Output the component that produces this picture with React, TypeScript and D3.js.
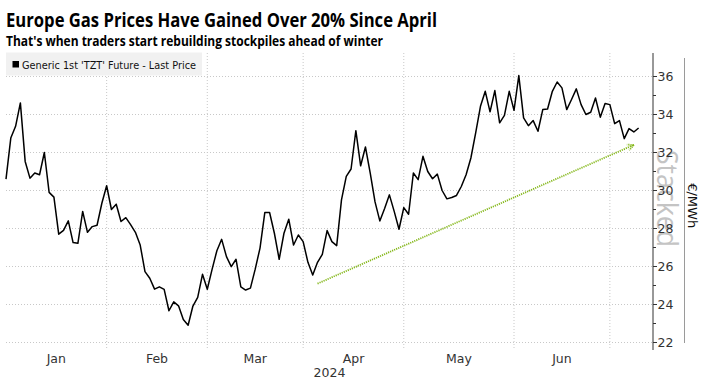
import React from "react";
import * as d3 from "d3";

// Generic 1st 'TZT' Future - Last Price (EUR/MWh), one value per trading day, early Jan to early Jul 2024
const prices: number[] = [
  30.6, 32.76, 33.38, 34.61, 31.53, 30.65, 30.92, 30.83, 32.0, 29.9,
  29.65, 27.7, 27.9, 28.4, 27.26, 27.22, 28.9, 27.8, 28.1, 28.17,
  29.33, 30.25, 29.0, 29.28, 28.37, 28.57, 28.2, 27.8, 27.13, 25.73,
  25.38, 24.81, 24.93, 24.8, 23.67, 24.14, 23.93, 23.21, 22.91, 23.92,
  24.37, 25.59, 24.8, 25.85, 26.83, 27.43, 26.52, 25.99, 26.38, 24.93,
  24.76, 24.86, 25.86, 26.97, 28.84, 28.84, 27.75, 26.38, 27.75, 28.49,
  27.13, 27.66, 27.31, 26.22, 25.55, 26.22, 26.64, 27.89, 27.31, 27.1,
  29.51, 30.74, 31.13, 33.15, 31.3, 32.29, 30.92, 29.4, 28.4, 29.05,
  29.77, 28.9, 27.96, 29.1, 28.75, 30.92, 30.57, 31.8, 31.0, 30.62,
  30.86, 30.0, 29.56, 29.63, 29.74, 30.21, 30.83, 31.71, 33.03, 34.43,
  35.22, 34.14, 35.26, 33.56, 33.95, 35.22, 34.22, 36.05, 33.82, 33.41,
  33.68, 33.12, 34.26, 34.29, 35.22, 35.71, 35.4, 34.26, 34.79, 35.35,
  34.52, 34.0, 34.12, 34.87, 33.86, 34.58, 34.52, 33.52, 33.68, 32.73,
  33.26, 33.08, 33.29,
];

// trading-day index at which each month starts (Jan, Feb, Mar, Apr, May, Jun, Jul)
const monthStarts: number[] = [0, 21, 42, 62, 83, 106, 126];
const monthLabels: string[] = ["Jan", "Feb", "Mar", "Apr", "May", "Jun"];
const yearLabel = "2024";
const yTicks: number[] = [22, 24, 26, 28, 30, 32, 34, 36];
const yMinorTicks: number[] = [23, 25, 27, 29, 31, 33, 35];
// trend arrow annotation [trading-day index, price]
const trendStart: [number, number] = [65, 25.1];
const trendEnd: [number, number] = [131, 32.4];

const title = "Europe Gas Prices Have Gained Over 20% Since April";
const subtitle = "That's when traders start rebuilding stockpiles ahead of winter";
const legendLabel = "Generic 1st 'TZT' Future - Last Price";
const unitLabel = "€/MWh";

const W = 708;
const H = 382;

export default function App() {
  const x = d3.scaleLinear().domain([0, 135]).range([6, 653]);
  const y = d3.scaleLinear().domain([22, 36]).range([342.5, 76.5]);
  const line = d3
    .line<number>()
    .x((_, i) => x(i))
    .y((d) => y(d));

  const plotTop = 53;
  const plotBottom = 349;
  const axisX = x(135);
  const font = "'DejaVu Sans', sans-serif";

  const sx = x(trendStart[0]);
  const sy = y(trendStart[1]);
  const ex = x(trendEnd[0]);
  const ey = y(trendEnd[1]);
  const ang = Math.atan2(ey - sy, ex - sx);
  const head = 7;
  const a1 = ang + Math.PI - 0.45;
  const a2 = ang + Math.PI + 0.45;

  const monthMid = monthLabels.map((_, i) => (monthStarts[i] + monthStarts[i + 1]) / 2);

  return (
    <svg
      width={W}
      height={H}
      viewBox={`0 0 ${W} ${H}`}
      style={{ position: "absolute", left: 0, top: 0, background: "#fff", display: "block" }}
      fontFamily={font}
    >
      <rect x={0} y={0} width={W} height={H} fill="#fff" />
      {/* titles */}
      <text
        x={6}
        y={26.5}
        fontFamily="'Open Sans', sans-serif"
        fontWeight={700}
        fontSize={19}
        textLength={431}
        lengthAdjust="spacingAndGlyphs"
        fill="#000"
      >
        {title}
      </text>
      <text
        x={6}
        y={45.5}
        fontFamily="'Open Sans', sans-serif"
        fontWeight={700}
        fontSize={15}
        textLength={377}
        lengthAdjust="spacingAndGlyphs"
        fill="#000"
      >
        {subtitle}
      </text>

      {/* horizontal gridlines */}
      {yTicks.map((t) => (
        <line
          key={"h" + t}
          x1={6}
          x2={axisX}
          y1={y(t)}
          y2={y(t)}
          stroke="#c8c8c8"
          strokeWidth={1}
          strokeDasharray="1,2"
        />
      ))}
      {/* vertical gridlines at month starts */}
      {monthStarts.slice(1).map((m) => (
        <line
          key={"v" + m}
          x1={x(m)}
          x2={x(m)}
          y1={plotTop}
          y2={plotBottom}
          stroke="#c8c8c8"
          strokeWidth={1}
          strokeDasharray="1,2"
        />
      ))}

      {/* legend */}
      <rect x={6} y={52.5} width={196} height={23} fill="#f1f1f1" />
      <rect x={12.5} y={61} width={6.5} height={6.5} fill="#000" />
      <text
        x={22}
        y={68.5}
        fontSize={10.5}
        fill="#111"
        textLength={174}
        lengthAdjust="spacingAndGlyphs"
      >
        {legendLabel}
      </text>

      {/* watermark */}
      <text
        transform={`translate(657,150) rotate(90)`}
        fontFamily="'Open Sans', sans-serif"
        fontSize={30}
        fill="#c4c4c4"
        textLength={97}
        lengthAdjust="spacingAndGlyphs"
      >
        Stacked
      </text>

      {/* price line */}
      <path d={line(prices) || ""} fill="none" stroke="#000" strokeWidth={1.5} strokeLinejoin="round" />

      {/* trend arrow */}
      <g stroke="#86b81d" strokeWidth={1.8} strokeDasharray="1.2,1" fill="none">
        <line x1={sx} y1={sy} x2={ex} y2={ey} />
        <line x1={ex} y1={ey} x2={ex + head * Math.cos(a1)} y2={ey + head * Math.sin(a1)} />
        <line x1={ex} y1={ey} x2={ex + head * Math.cos(a2)} y2={ey + head * Math.sin(a2)} />
      </g>

      {/* right axis */}
      <line x1={axisX} x2={axisX} y1={plotTop} y2={plotBottom + 1} stroke="#333" strokeWidth={1} />
      {yTicks.map((t) => (
        <g key={"t" + t}>
          <line x1={axisX} x2={axisX + 4} y1={y(t)} y2={y(t)} stroke="#333" />
          <text x={axisX + 4.5} y={y(t) + 4.5} fontSize={12.5} fill="#333">
            {t}
          </text>
        </g>
      ))}
      {yMinorTicks.map((t) => (
        <line key={"m" + t} x1={axisX} x2={axisX + 3} y1={y(t)} y2={y(t)} stroke="#333" />
      ))}
      <line x1={684.5} x2={684.5} y1={58} y2={343} stroke="#9a9a9a" strokeWidth={1} />
      <text
        transform={`translate(688,${y(29.2)}) rotate(90)`}
        textAnchor="middle"
        fontSize={13}
        fill="#111"
      >
        {unitLabel}
      </text>

      {/* month labels */}
      {monthLabels.map((m, i) => (
        <text key={m} x={x(monthMid[i])} y={362.5} textAnchor="middle" fontSize={12.5} fill="#333">
          {m}
        </text>
      ))}
      <text x={329.5} y={377} textAnchor="middle" fontSize={12.5} fill="#333">
        {yearLabel}
      </text>

      {/* footer (cut off at the bottom edge, as in the source image) */}
      <text x={613} y={394} fontSize={15} fontWeight={700} fill="#222">
        Bloomberg
      </text>
    </svg>
  );
}
